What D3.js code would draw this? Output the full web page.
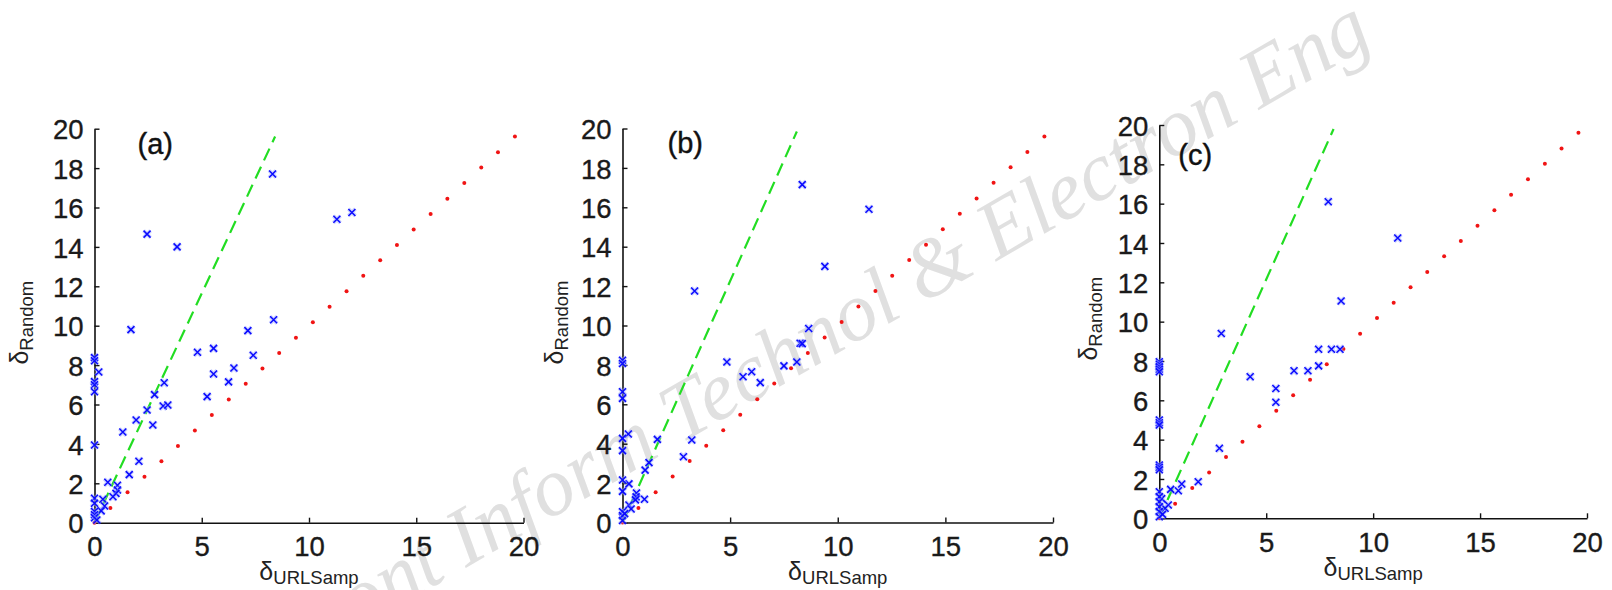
<!DOCTYPE html>
<html>
<head>
<meta charset="utf-8">
<script src="https://cdn.jsdelivr.net/npm/d3@7"></script>
<style>
body { margin: 0; background: #fff; }
svg { display: block; }
text { font-family: "Liberation Sans", Arial, sans-serif; }
</style>
</head>
<body>
<svg id="fig" width="1612" height="590"></svg>
<script>
// red points, they lie on y = x
var diagX = [0, 0.74, 1.54, 2.33, 3.12, 3.89, 4.68, 5.47, 6.26, 7.05, 7.83, 8.61, 9.39, 10.18,
    10.96, 11.75, 12.53, 13.32, 14.1, 14.88, 15.67, 16.45, 17.24, 18.03, 18.81, 19.6];

// blue crosses [deltaURLSamp, deltaRandom]
var blueA = [[8.3, 17.7], [11.3, 15.4], [12.0, 15.75], [2.45, 14.65], [3.85, 14.0], [1.7, 9.8],
    [8.35, 10.3], [7.15, 9.75], [4.8, 8.65], [5.55, 8.85], [7.4, 8.5], [6.5, 7.85], [5.55, 7.55],
    [6.25, 7.15], [5.25, 6.4], [3.25, 7.1], [2.8, 6.5], [3.2, 5.92], [3.42, 5.97], [2.45, 5.72],
    [1.94, 5.21], [2.72, 4.96], [1.32, 4.6], [2.07, 3.12], [1.62, 2.44], [0.62, 2.05], [1.07, 1.9],
    [1.07, 1.66], [1.0, 1.49], [0.86, 1.32], [0.39, 1.19], [0.47, 0.85], [0.31, 0.6], [0.2, 7.65],
    [0, 8.38], [0, 8.22], [0, 7.16], [0, 7.0], [0, 6.65], [0, 3.94], [0, 1.24], [0, 0.99],
    [0, 0.57], [0, 0.4], [0, 0.25], [0.11, 0.14]];

var blueB = [[8.35, 17.15], [11.45, 15.9], [9.4, 13.0], [3.35, 11.75], [8.65, 9.85], [8.25, 9.1],
    [8.35, 9.08], [4.85, 8.15], [8.1, 8.15], [7.5, 7.95], [6.0, 7.65], [5.6, 7.4], [6.4, 7.1],
    [3.22, 4.19], [2.83, 3.34], [1.62, 4.22], [1.23, 3.04], [1.05, 2.66], [0.65, 1.5], [0.63, 1.3],
    [0.6, 1.15], [1.02, 1.18], [0.3, 1.96], [0.27, 4.49], [0.3, 0.89], [0.4, 0.69],
    [0, 8.24], [0, 8.07], [0, 6.64], [0, 6.3], [0, 4.27], [0, 3.65], [0, 2.16], [0, 1.58],
    [0, 0.55], [0, 0.35], [0, 0.1], [0.1, 0.45]];

var blueC = [[7.9, 16.1], [11.15, 14.25], [8.5, 11.05], [2.9, 9.4], [7.45, 8.6], [8.05, 8.6],
    [8.45, 8.6], [4.25, 7.2], [6.3, 7.5], [6.95, 7.5], [7.45, 7.75], [5.45, 6.6], [5.45, 5.9],
    [2.81, 3.56], [1.82, 1.86], [1.05, 1.74], [0.89, 1.4], [0.53, 1.47], [0.42, 0.68], [0.27, 0.51],
    [0.11, 1.0], [0, 7.96], [0, 7.83], [0, 7.7], [0, 7.58], [0, 7.45], [0, 5.0], [0, 4.86],
    [0, 4.74], [0, 2.71], [0, 2.59], [0, 2.47], [0, 1.35], [0, 1.1], [0, 0.84], [0, 0.59],
    [0, 0.34], [0, 0.08], [0.15, 0.2]];

// end point of the green dashed line, per panel (it starts at 0,0)
var greenEnd = [[8.42, 19.6], [8.1, 19.85], [8.15, 19.8]];

var panelNames = ["(a)", "(b)", "(c)"];
var xTicks = [0, 5, 10, 15, 20];
var yTicks = [0, 2, 4, 6, 8, 10, 12, 14, 16, 18, 20];

// pixel layout of each panel (yt = offset of the y title baseline from the axis)
var layout = [
    { left: 94.5, right: 523.5, top: 128.7, bottom: 522.7, lx: 43, ly: 154, yt: -67 },
    { left: 622.5, right: 1053, top: 128.5, bottom: 522.5, lx: 45, ly: 152.5, yt: -60 },
    { left: 1159.3, right: 1587, top: 125, bottom: 518.3, lx: 19, ly: 164.5, yt: -62 }
];
var blues = [blueA, blueB, blueC];

var svg = d3.select("#fig");

// watermark behind the plots
svg.append("text")
    .attr("transform", "translate(287,671) rotate(-30)")
    .style("font-family", "'Liberation Serif', 'Times New Roman', serif")
    .style("font-style", "italic")
    .style("font-size", "83px")
    .attr("fill", "#e0e0e0")
    .text("Front Inform Technol & Electron Eng");

layout.forEach(function (L, i) {
    var x = d3.scaleLinear().domain([0, 20]).range([L.left, L.right]);
    var y = d3.scaleLinear().domain([0, 20]).range([L.bottom, L.top]);
    var g = svg.append("g");

    // axes, ticks pointing inside
    var xAxis = g.append("g")
        .attr("transform", "translate(0," + L.bottom + ")")
        .call(d3.axisBottom(x).tickValues(xTicks).tickFormat(d3.format("d"))
            .tickSizeInner(-5).tickSizeOuter(0).tickPadding(14));
    var yAxis = g.append("g")
        .attr("transform", "translate(" + L.left + ",0)")
        .call(d3.axisLeft(y).tickValues(yTicks).tickFormat(d3.format("d"))
            .tickSizeInner(-5).tickSizeOuter(0).tickPadding(11));
    [xAxis, yAxis].forEach(function (ax) {
        ax.attr("font-size", null).attr("font-family", null);
        ax.select(".domain").attr("stroke", "#111").attr("stroke-width", 1.6);
        ax.selectAll(".tick line").attr("stroke", "#111").attr("stroke-width", 1.4);
        ax.selectAll(".tick text").attr("fill", "#1a1a1a")
            .attr("stroke", "#1a1a1a").attr("stroke-width", 0.35)
            .style("font-size", "27.5px");
    });
    yAxis.selectAll(".tick text").attr("dy", "0.37em");

    // green dashed line
    g.append("line")
        .attr("x1", x(0)).attr("y1", y(0))
        .attr("x2", x(greenEnd[i][0])).attr("y2", y(greenEnd[i][1]))
        .attr("stroke", "#22dd22")
        .attr("stroke-width", 2.2)
        .attr("stroke-dasharray", "13,7");

    // red dots
    g.selectAll("circle.red")
        .data(diagX)
        .enter().append("circle")
        .attr("class", "red")
        .attr("cx", function (d) { return x(d); })
        .attr("cy", function (d) { return y(d); })
        .attr("r", 2)
        .attr("fill", "#f01414");

    // blue crosses
    var cross = "M-3.5,-3.5L3.5,3.5M-3.5,3.5L3.5,-3.5";
    var marks = g.selectAll("g.blue")
        .data(blues[i])
        .enter().append("g")
        .attr("class", "blue")
        .attr("transform", function (d) { return "translate(" + x(d[0]) + "," + y(d[1]) + ")"; });
    marks.append("path").attr("d", cross)
        .attr("stroke", "#9aa6ff").attr("stroke-width", 3.8).attr("stroke-opacity", 0.5);
    marks.append("path").attr("d", cross)
        .attr("stroke", "#0a0aff").attr("stroke-width", 1.5);

    // panel label
    g.append("text")
        .attr("x", L.left + L.lx)
        .attr("y", L.ly)
        .attr("fill", "#111")
        .attr("stroke", "#111").attr("stroke-width", 0.4)
        .style("font-size", "29px")
        .text(panelNames[i]);

    // axis titles
    var xt = g.append("text")
        .attr("x", (L.left + L.right) / 2)
        .attr("y", L.bottom + 57.5)
        .attr("text-anchor", "middle")
        .attr("fill", "#222");
    xt.append("tspan").style("font-size", "25px").text("δ");
    xt.append("tspan").style("font-size", "18.5px").attr("dy", 4).text("URLSamp");

    var yt = g.append("text")
        .attr("transform", "translate(" + (L.left + L.yt) + "," + ((L.top + L.bottom) / 2 - 3) + ") rotate(-90)")
        .attr("text-anchor", "middle")
        .attr("fill", "#222");
    yt.append("tspan").style("font-size", "25px").text("δ");
    yt.append("tspan").style("font-size", "18.5px").attr("dy", 5).text("Random");
});
</script>
</body>
</html>
